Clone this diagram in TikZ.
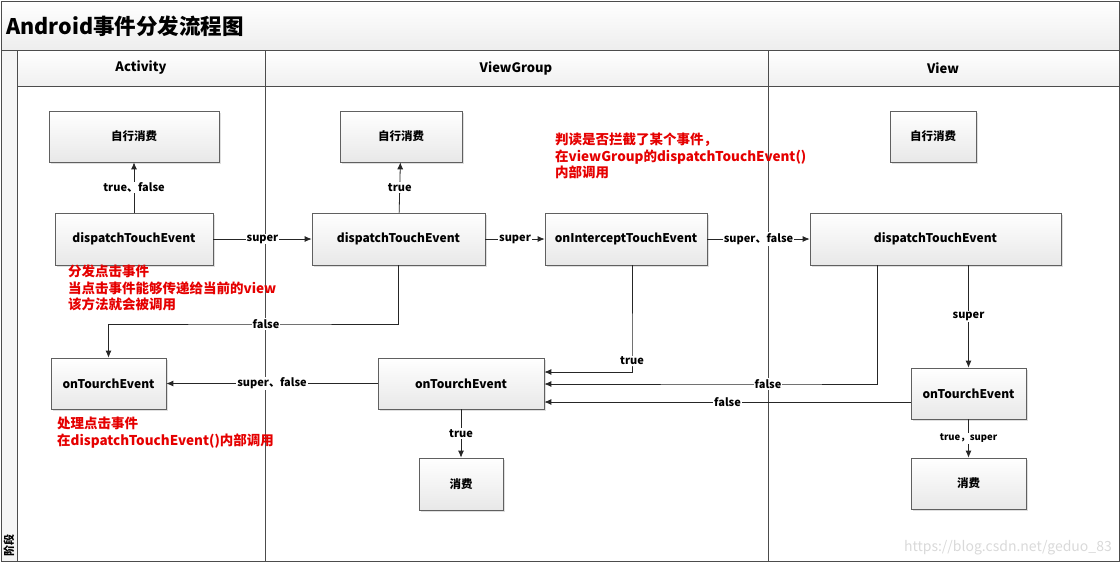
\documentclass[tikz,border=0pt]{standalone}
\usepackage{fontspec}
\setmainfont{Noto Sans CJK SC}
\usetikzlibrary{arrows.meta,shadows}

\tikzset{
    box/.style={draw=gray!75!black, line width=0.7pt, top color=white, bottom color=gray!18,
        drop shadow={opacity=0.25, shadow xshift=1.5pt, shadow yshift=-1.5pt},
        inner sep=0pt, font=\fontsize{12}{14}\selectfont\bfseries},
    lbl/.style={fill=white, inner sep=1pt, font=\fontsize{11}{13}\selectfont\bfseries},
    note/.style={text=red!90!black, align=left, anchor=north west, inner sep=0pt,
        font=\fontsize{13.5}{16.5}\selectfont\bfseries},
    lane/.style={draw=gray!60!black, line width=0.8pt},
}

\begin{document}
\begin{tikzpicture}[
        x = 1pt, y = -1pt, % pixel grid, y downwards
        > = {Latex[length=7pt, width=6pt]}, % arrow head style
        flow/.style = {->, draw=gray!30!black, line width=0.8pt},
    ]
    \useasboundingbox (0,0) rectangle (1120,563);
    % frame, title band and lanes
    \shade[top color=white, bottom color=gray!14] (1,1) rectangle (1119,50);
    \shade[top color=white, bottom color=gray!12] (17,50) rectangle (1119,86);
    \fill[gray!8] (1,50) rectangle (17,561);
    \draw[lane] (1,1) rectangle (1119,561);
    \draw[lane] (1,50) -- (1119,50);
    \draw[lane] (17,86) -- (1119,86);
    \draw[lane] (17,50) -- (17,561);
    \draw[lane] (265,50) -- (265,561);
    \draw[lane] (768,50) -- (768,561);
    \node[anchor=west, inner sep=0pt, font=\fontsize{21.5}{24}\selectfont\bfseries] (title) at (6,26) {Android事件分发流程图};
    \node[font=\fontsize{13}{15}\selectfont\bfseries] (activity) at (141,68) {Activity};
    \node[font=\fontsize{13}{15}\selectfont\bfseries] (viewgroup) at (516,68) {ViewGroup};
    \node[font=\fontsize{13}{15}\selectfont\bfseries] (view) at (943,68) {View};
    \node[rotate=90, inner sep=0pt, font=\fontsize{11}{13}\selectfont\bfseries] (stage) at (9,545) {阶段};

    % Activity
    \node[box, minimum width=170pt, minimum height=51pt, font=\fontsize{11.5}{14}\selectfont\bfseries] (aself) at (134,136.5) {自行消费};
    \node[box, minimum width=158pt, minimum height=52pt] (adisp) at (134,239) {dispatchTouchEvent};
    \node[box, minimum width=115pt, minimum height=51pt] (aon) at (108.5,383.5) {onTourchEvent};
    \node[note] (anote1) at (68,265) {分发点击事件\\当点击事件能够传递给当前的view\\该方法就会被调用};
    \node[note] (anote2) at (57,417) {处理点击事件\\在dispatchTouchEvent()内部调用};

    % ViewGroup
    \node[box, minimum width=122pt, minimum height=51pt, font=\fontsize{11.5}{14}\selectfont\bfseries] (vgself) at (401,136.5) {自行消费};
    \node[box, minimum width=173pt, minimum height=52pt] (vgdisp) at (398.5,239) {dispatchTouchEvent};
    \node[box, minimum width=162pt, minimum height=52pt] (vginter) at (626,239) {onInterceptTouchEvent};
    \node[box, minimum width=166pt, minimum height=51pt] (vgon) at (461,383.5) {onTourchEvent};
    \node[box, minimum width=84pt, minimum height=52pt, font=\fontsize{11.5}{14}\selectfont\bfseries] (vgeat) at (461,484) {消费};
    \node[note] (vgnote) at (555,133) {判读是否拦截了某个事件，\\在viewGroup的dispatchTouchEvent()\\内部调用};

    % View
    \node[box, minimum width=86pt, minimum height=51pt, font=\fontsize{11.5}{14}\selectfont\bfseries] (vself) at (933,136.5) {自行消费};
    \node[box, minimum width=251pt, minimum height=52pt] (vdisp) at (935.5,239) {dispatchTouchEvent};
    \node[box, minimum width=115pt, minimum height=51pt] (von) at (968.5,393.5) {onTourchEvent};
    \node[box, minimum width=115pt, minimum height=51pt, font=\fontsize{11.5}{14}\selectfont\bfseries] (veat) at (968.5,483.5) {消费};

    \node[anchor=east, inner sep=0pt, text=gray!30, font=\fontsize{14}{16}\selectfont] (mark) at (1112,548) {https://blog.csdn.net/geduo\_83};

    % connectors
    \draw[flow] (adisp) -- node[lbl] {true、false} (aself);
    \draw[flow] (adisp) -- node[lbl] {super} (vgdisp);
    \draw[flow] (vgdisp) -- node[lbl] {true} (vgself);
    \draw[flow] (vgdisp) -- node[lbl] {super} (vginter);
    \draw[flow] (vginter) -- node[lbl] {super、false} (vdisp);
    \coordinate (fa) at (266,324);
    \draw[flow] (vgdisp.south) |- (fa) node[lbl] {false} -| (aon.north);
    \draw[flow] (vgon) -- node[lbl] {super、false} (aon);
    \coordinate (ta) at (632,361);
    \draw[flow] ([xshift=6pt]vginter.south) -- (ta) node[lbl] {true} |- ([yshift=11.5pt]vgon.east);
    \coordinate (fb) at (768,384);
    \draw[flow] ([xshift=-58.5pt]vdisp.south) |- (fb) node[lbl] {false} -- ([yshift=-0.5pt]vgon.east);
    \draw[flow] ([yshift=-8.5pt]von.west) -- node[lbl] {false} ([yshift=-8.5pt]von.west -| vgon.east);
    \draw[flow] (vdisp.south -| von.north) -- node[lbl] {super} (von.north);
    \draw[flow] (vgon) -- node[lbl] {true} (vgeat);
    \draw[flow] (von) -- node[lbl, font=\fontsize{9.5}{11}\selectfont\bfseries] {true，super} (veat);
\end{tikzpicture}
\end{document}
